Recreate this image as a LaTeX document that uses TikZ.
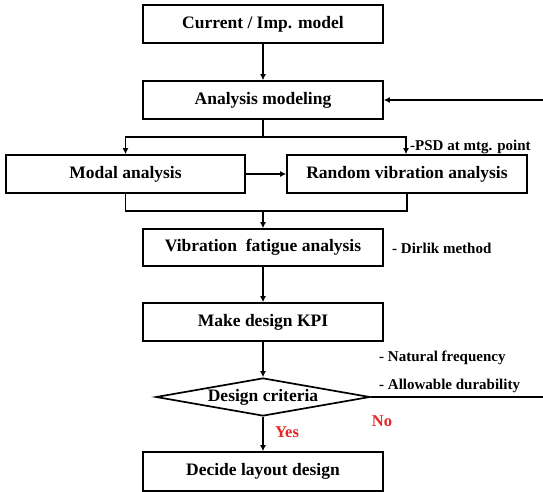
\documentclass[tikz,border=0pt]{standalone}
\usepackage{fontspec}
\setmainfont{Liberation Serif}
\usetikzlibrary{arrows.meta,shapes.geometric}
\definecolor{yesred}{RGB}{232,36,36}
\begin{document}
\begin{tikzpicture}[x=1pt,y=-1pt,
  box/.style={draw,line width=1.7pt,minimum width=240pt,minimum height=38pt,inner sep=0pt,
    font=\fontsize{17.5}{20}\selectfont\bfseries},
  decision/.style={draw,diamond,line width=1.7pt,minimum width=214pt,minimum height=38pt,
    inner sep=0pt,aspect=5.6,font=\fontsize{17.5}{20}\selectfont\bfseries},
  conn/.style={line width=1.4pt,-{Latex[length=6pt,width=6pt]}},
  plain/.style={line width=1.4pt},
  note/.style={font=\fontsize{15}{17}\selectfont\bfseries,inner sep=0pt,anchor=west},
  answer/.style={font=\fontsize{16.5}{19}\selectfont\bfseries,text=yesred,inner sep=0pt}]
\useasboundingbox (0,0) rectangle (543,492);
\node[box] (cur) at (263,24) {Current / Imp. model};
\node[box] (am) at (263,100) {Analysis modeling};
\node[box,minimum width=239pt] (modal) at (125.5,174) {Modal analysis};
\node[box] (rand) at (407,174) {Random vibration analysis};
\node[box,minimum height=37pt] (vfa) at (263,247.5) {Vibration\hspace{0.5em}fatigue analysis};
\node[box] (kpi) at (263,322) {Make design KPI};
\node[decision] (dc) at (263,397) {Design criteria};
\node[box,minimum height=39pt] (lay) at (263,471.5) {Decide layout design};
% connectors
\coordinate (split) at (263,137);
\coordinate (merge) at (263,211);
\coordinate (rt) at (550,397);
\draw[conn] (cur) -- (am);
\draw[plain] (am.south) -- (split);
\draw[conn] (split) -| (modal.north);
\draw[conn] (split) -| ([xshift=-1pt]rand.north);
\draw[conn] (modal) -- (rand);
\draw[plain] (modal.south) |- (merge) -| (rand.south);
\draw[conn] (merge) -- (vfa);
\draw[conn] (vfa) -- (kpi);
\draw[conn] (kpi) -- (dc);
\draw[conn] (dc) -- (lay);
\draw[conn] (dc.east) -- (rt) |- (am.east);
% notes
\node[note] (psd) at (410,147) {-PSD at mtg. point};
\node[note] (dir) at (392,248) {- Dirlik method};
\node[note] (nf) at (379,358) {- Natural frequency};
\node[note] (ad) at (379,386) {- Allowable durability};
\node[answer] (yes) at (287,432) {Yes};
\node[answer] (no) at (382,421) {No};
\end{tikzpicture}
\end{document}
